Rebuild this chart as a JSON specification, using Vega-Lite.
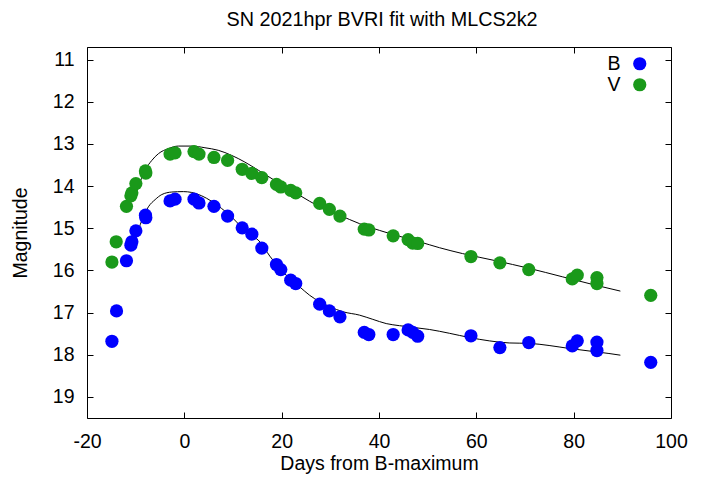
{
  "$schema": "https://vega.github.io/schema/vega-lite/v6.json",
  "autosize": "none",
  "width": 584,
  "height": 371,
  "padding": {"left": 87, "top": 47, "right": 39, "bottom": 64},
  "background": "white",
  "title": {"text": "SN 2021hpr BVRI fit with MLCS2k2", "font": "Liberation Sans", "fontSize": 19.8, "fontWeight": "normal", "color": "black", "baseline": "alphabetic", "offset": 1, "dx": 3},
  "datasets": {
    "obs": [
      {"band": "B", "day": -14.88, "mag": 17.68}, {"band": "B", "day": -13.93, "mag": 16.96}, {"band": "B", "day": -11.89, "mag": 15.77},
      {"band": "B", "day": -10.98, "mag": 15.40}, {"band": "B", "day": -10.78, "mag": 15.32}, {"band": "B", "day": -9.96, "mag": 15.06},
      {"band": "B", "day": -7.91, "mag": 14.75}, {"band": "B", "day": -7.99, "mag": 14.69}, {"band": "B", "day": -2.93, "mag": 14.35},
      {"band": "B", "day": -1.91, "mag": 14.31}, {"band": "B", "day": 1.99, "mag": 14.31}, {"band": "B", "day": 3.01, "mag": 14.40},
      {"band": "B", "day": 6.09, "mag": 14.48}, {"band": "B", "day": 8.89, "mag": 14.71}, {"band": "B", "day": 11.89, "mag": 14.99},
      {"band": "B", "day": 13.87, "mag": 15.14}, {"band": "B", "day": 15.92, "mag": 15.47}, {"band": "B", "day": 18.93, "mag": 15.86},
      {"band": "B", "day": 19.82, "mag": 15.98}, {"band": "B", "day": 21.86, "mag": 16.23}, {"band": "B", "day": 22.89, "mag": 16.31},
      {"band": "B", "day": 27.81, "mag": 16.80}, {"band": "B", "day": 29.8, "mag": 16.96}, {"band": "B", "day": 31.97, "mag": 17.10},
      {"band": "B", "day": 36.97, "mag": 17.47}, {"band": "B", "day": 37.91, "mag": 17.52}, {"band": "B", "day": 42.91, "mag": 17.52},
      {"band": "B", "day": 45.98, "mag": 17.41}, {"band": "B", "day": 46.93, "mag": 17.47}, {"band": "B", "day": 47.95, "mag": 17.56},
      {"band": "B", "day": 58.89, "mag": 17.55}, {"band": "B", "day": 64.84, "mag": 17.83}, {"band": "B", "day": 70.78, "mag": 17.71},
      {"band": "B", "day": 79.71, "mag": 17.79}, {"band": "B", "day": 80.74, "mag": 17.67}, {"band": "B", "day": 84.78, "mag": 17.70},
      {"band": "B", "day": 84.78, "mag": 17.90}, {"band": "B", "day": 95.84, "mag": 18.18},
      {"band": "V", "day": -14.88, "mag": 15.80}, {"band": "V", "day": -14.0, "mag": 15.32}, {"band": "V", "day": -11.89, "mag": 14.48},
      {"band": "V", "day": -10.98, "mag": 14.23}, {"band": "V", "day": -10.78, "mag": 14.16}, {"band": "V", "day": -9.96, "mag": 13.94},
      {"band": "V", "day": -7.91, "mag": 13.69}, {"band": "V", "day": -7.99, "mag": 13.64}, {"band": "V", "day": -2.93, "mag": 13.24},
      {"band": "V", "day": -1.91, "mag": 13.21}, {"band": "V", "day": 1.99, "mag": 13.18}, {"band": "V", "day": 3.01, "mag": 13.24},
      {"band": "V", "day": 6.09, "mag": 13.32}, {"band": "V", "day": 8.89, "mag": 13.39}, {"band": "V", "day": 11.89, "mag": 13.60},
      {"band": "V", "day": 13.87, "mag": 13.70}, {"band": "V", "day": 15.92, "mag": 13.80}, {"band": "V", "day": 18.93, "mag": 13.96},
      {"band": "V", "day": 19.82, "mag": 14.02}, {"band": "V", "day": 21.86, "mag": 14.10}, {"band": "V", "day": 22.89, "mag": 14.16},
      {"band": "V", "day": 27.81, "mag": 14.41}, {"band": "V", "day": 29.8, "mag": 14.55}, {"band": "V", "day": 31.97, "mag": 14.71},
      {"band": "V", "day": 36.97, "mag": 15.02}, {"band": "V", "day": 37.91, "mag": 15.04}, {"band": "V", "day": 42.91, "mag": 15.18},
      {"band": "V", "day": 45.98, "mag": 15.27}, {"band": "V", "day": 46.93, "mag": 15.35}, {"band": "V", "day": 47.95, "mag": 15.36},
      {"band": "V", "day": 58.89, "mag": 15.67}, {"band": "V", "day": 64.84, "mag": 15.82}, {"band": "V", "day": 70.78, "mag": 15.98},
      {"band": "V", "day": 79.71, "mag": 16.20}, {"band": "V", "day": 80.74, "mag": 16.11}, {"band": "V", "day": 84.78, "mag": 16.17},
      {"band": "V", "day": 84.78, "mag": 16.31}, {"band": "V", "day": 95.84, "mag": 16.59}
    ],
    "fit": [
      {"band": "B", "day": -9.96, "mag": 15.24}, {"band": "B", "day": -8.73, "mag": 14.81}, {"band": "B", "day": -7.38, "mag": 14.49},
      {"band": "B", "day": -6.0, "mag": 14.32}, {"band": "B", "day": -4.63, "mag": 14.20}, {"band": "B", "day": -2.58, "mag": 14.14},
      {"band": "B", "day": -0.2, "mag": 14.13}, {"band": "B", "day": 1.52, "mag": 14.15}, {"band": "B", "day": 3.57, "mag": 14.23},
      {"band": "B", "day": 5.61, "mag": 14.36}, {"band": "B", "day": 7.66, "mag": 14.53}, {"band": "B", "day": 9.71, "mag": 14.73},
      {"band": "B", "day": 11.76, "mag": 14.97}, {"band": "B", "day": 13.81, "mag": 15.16}, {"band": "B", "day": 15.6, "mag": 15.33},
      {"band": "B", "day": 17.56, "mag": 15.66}, {"band": "B", "day": 19.61, "mag": 15.95}, {"band": "B", "day": 21.66, "mag": 16.19},
      {"band": "B", "day": 23.71, "mag": 16.39}, {"band": "B", "day": 25.76, "mag": 16.59}, {"band": "B", "day": 27.81, "mag": 16.74},
      {"band": "B", "day": 29.86, "mag": 16.86}, {"band": "B", "day": 32.6, "mag": 16.98}, {"band": "B", "day": 36.0, "mag": 17.06},
      {"band": "B", "day": 38.73, "mag": 17.16}, {"band": "B", "day": 41.48, "mag": 17.26}, {"band": "B", "day": 44.2, "mag": 17.31},
      {"band": "B", "day": 47.62, "mag": 17.36}, {"band": "B", "day": 50.35, "mag": 17.40}, {"band": "B", "day": 54.45, "mag": 17.49},
      {"band": "B", "day": 58.55, "mag": 17.59}, {"band": "B", "day": 62.65, "mag": 17.67}, {"band": "B", "day": 66.75, "mag": 17.72},
      {"band": "B", "day": 70.85, "mag": 17.73}, {"band": "B", "day": 74.95, "mag": 17.78}, {"band": "B", "day": 79.05, "mag": 17.85},
      {"band": "B", "day": 83.15, "mag": 17.91}, {"band": "B", "day": 87.25, "mag": 17.97}, {"band": "B", "day": 89.6, "mag": 18.01},
      {"band": "V", "day": -9.96, "mag": 14.20}, {"band": "V", "day": -9.08, "mag": 13.90}, {"band": "V", "day": -8.05, "mag": 13.62},
      {"band": "V", "day": -6.68, "mag": 13.39}, {"band": "V", "day": -5.32, "mag": 13.23}, {"band": "V", "day": -3.28, "mag": 13.11},
      {"band": "V", "day": -1.23, "mag": 13.05}, {"band": "V", "day": 1.52, "mag": 13.05}, {"band": "V", "day": 4.24, "mag": 13.09},
      {"band": "V", "day": 6.97, "mag": 13.15}, {"band": "V", "day": 9.71, "mag": 13.27}, {"band": "V", "day": 12.44, "mag": 13.43},
      {"band": "V", "day": 15.3, "mag": 13.63}, {"band": "V", "day": 19.61, "mag": 13.94}, {"band": "V", "day": 23.71, "mag": 14.22},
      {"band": "V", "day": 27.81, "mag": 14.49}, {"band": "V", "day": 31.91, "mag": 14.69}, {"band": "V", "day": 36.0, "mag": 14.89},
      {"band": "V", "day": 40.1, "mag": 15.05}, {"band": "V", "day": 44.2, "mag": 15.19}, {"band": "V", "day": 48.3, "mag": 15.32},
      {"band": "V", "day": 52.4, "mag": 15.46}, {"band": "V", "day": 57.17, "mag": 15.60}, {"band": "V", "day": 64.0, "mag": 15.77},
      {"band": "V", "day": 70.85, "mag": 15.95}, {"band": "V", "day": 77.67, "mag": 16.15}, {"band": "V", "day": 84.5, "mag": 16.35},
      {"band": "V", "day": 89.6, "mag": 16.49}
    ]
  },
  "layer": [
    {
      "data": {"name": "fit"},
      "mark": {"type": "line", "color": "black", "strokeWidth": 1, "interpolate": "monotone"},
      "encoding": {
        "x": {"field": "day", "type": "quantitative", "scale": {"domain": [-20, 100], "nice": false, "zero": false},
              "axis": {"orient": "top", "labels": false, "title": null, "values": [-20, 0, 20, 40, 60, 80, 100]}},
        "y": {"field": "mag", "type": "quantitative", "scale": {"domain": [10.7, 19.5], "reverse": true, "nice": false, "zero": false},
              "axis": {"orient": "right", "labels": false, "title": null, "values": [11, 12, 13, 14, 15, 16, 17, 18, 19]}},
        "detail": {"field": "band"}
      }
    },
    {
      "data": {"name": "obs"},
      "mark": {"type": "point", "filled": true, "shape": "circle", "size": 175, "opacity": 1, "strokeWidth": 0},
      "encoding": {
        "x": {"field": "day", "type": "quantitative",
              "axis": {"orient": "bottom", "title": "Days from B-maximum", "values": [-20, 0, 20, 40, 60, 80, 100], "labelFlush": false, "labelExpr": "'' + datum.value", "labelPadding": 20, "titlePadding": 4}},
        "y": {"field": "mag", "type": "quantitative",
              "axis": {"orient": "left", "title": "Magnitude", "values": [11, 12, 13, 14, 15, 16, 17, 18, 19], "labelExpr": "'' + datum.value", "labelPadding": 19, "titlePadding": 22}},
        "color": {"field": "band", "type": "nominal",
                  "scale": {"domain": ["B", "V"], "range": ["#0000ff", "#1a991a"]},
                  "legend": {"orient": "none", "legendX": 543, "legendY": 7, "title": null, "labelAlign": "right", "labelOffset": -29,
                             "symbolSize": 175, "symbolStrokeWidth": 0, "symbolType": "circle", "symbolOpacity": 1,
                             "labelFontSize": 19.5, "labelFont": "Liberation Sans", "labelColor": "black", "rowPadding": 0, "padding": 0}}
      }
    }
  ],
  "resolve": {"axis": {"x": "independent", "y": "independent"}},
  "config": {
    "view": {"stroke": "black", "strokeWidth": 1},
    "axis": {
      "domain": false, "grid": false, "tickSize": -6, "tickColor": "black", "tickWidth": 1,
      "labelFont": "Liberation Sans", "labelFontSize": 19.5, "labelColor": "black",
      "titleFont": "Liberation Sans", "titleFontSize": 19.5, "titleFontWeight": "normal", "titleColor": "black"
    }
  }
}
